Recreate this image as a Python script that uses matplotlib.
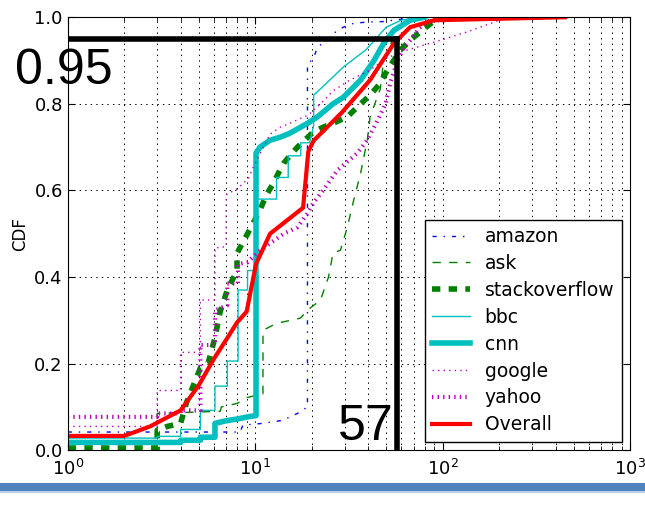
import matplotlib
matplotlib.use('Agg')
import matplotlib.pyplot as plt
from matplotlib.patches import Rectangle
import numpy as np

# old-style (unscaled) dash patterns
plt.rcParams['lines.scale_dashes'] = False
plt.rcParams['lines.dashed_pattern'] = [6, 6]
plt.rcParams['lines.dashdot_pattern'] = [3, 5, 1, 5]
plt.rcParams['lines.dotted_pattern'] = [1, 3]

# CDF curves (x = value, y = cumulative fraction)
amazon_x = [1, 8.3, 8.6, 11, 14, 16.8, 19, 19, 20.4, 21.5, 24.3, 26, 29.5, 33.5, 40, 48, 73]
amazon_y = [0.042, 0.042, 0.058, 0.062, 0.069, 0.085, 0.1, 0.89, 0.905, 0.93, 0.95, 0.962, 0.977, 0.986, 0.989, 0.99, 1.0]

ask_x = [1, 3, 3, 6.5, 6.6, 8, 9.1, 11, 11, 13, 17.4, 19.6, 22.3, 24.6, 26, 28.5, 31, 33.5, 36.5, 39.6, 41, 46.5, 48.4, 52, 57, 70]
ask_y = [0.01, 0.01, 0.085, 0.09, 0.10, 0.108, 0.122, 0.13, 0.277, 0.293, 0.305, 0.328, 0.347, 0.40, 0.455, 0.462, 0.515, 0.577, 0.64, 0.716, 0.77, 0.835, 0.9, 0.93, 0.975, 1.0]

so_x = [1, 3, 3, 3.4, 4, 4.3, 5.1, 5.6, 6.1, 6.5, 7.1, 8, 8, 9.1, 10.4, 11.5, 12.5, 13.3, 14.2, 15.3, 16.8, 20.4, 23, 26, 31, 36.5, 41, 45.5, 51.5, 59.5, 67, 76, 95]
so_y = [0.003, 0.003, 0.046, 0.055, 0.062, 0.11, 0.19, 0.2, 0.26, 0.32, 0.37, 0.415, 0.455, 0.50, 0.547, 0.59, 0.617, 0.64, 0.663, 0.68, 0.70, 0.735, 0.746, 0.755, 0.77, 0.80, 0.82, 0.843, 0.882, 0.924, 0.947, 0.966, 1.0]

bbc_x = [1, 3, 3, 4, 4, 5.1, 5.1, 6.1, 6.1, 7.1, 7.1, 8.1, 8.1, 9.1, 9.1, 10.1, 10.1, 13, 13, 15, 15, 17.5, 17.5, 19.5, 20.5, 20.5, 23, 29.5, 39, 50, 60, 75]
bbc_y = [0.028, 0.028, 0.032, 0.032, 0.048, 0.048, 0.092, 0.092, 0.148, 0.148, 0.206, 0.206, 0.37, 0.37, 0.415, 0.415, 0.58, 0.58, 0.63, 0.63, 0.68, 0.68, 0.71, 0.71, 0.75, 0.82, 0.84, 0.885, 0.925, 0.977, 0.993, 1.0]

cnn_x = [1, 4, 4, 5.1, 5.1, 6.1, 6.1, 7, 8, 9.1, 10.1, 10.1, 10.6, 12, 13.6, 15.3, 19, 21.5, 26, 29.5, 36.5, 43, 48.5, 55, 67, 80]
cnn_y = [0.018, 0.018, 0.023, 0.023, 0.03, 0.03, 0.062, 0.068, 0.072, 0.077, 0.08, 0.686, 0.70, 0.716, 0.723, 0.732, 0.755, 0.77, 0.80, 0.815, 0.855, 0.90, 0.94, 0.97, 0.993, 1.0]

google_x = [1, 3, 3, 4, 4, 5.1, 5.1, 6.1, 6.1, 7, 7, 8.1, 9.2, 9.8, 12, 13.6, 15.3, 17.4, 19.2, 22.3, 26, 32, 40, 50, 60, 89, 135, 200, 230]
google_y = [0.055, 0.055, 0.138, 0.138, 0.226, 0.226, 0.347, 0.347, 0.467, 0.47, 0.59, 0.605, 0.628, 0.655, 0.73, 0.746, 0.755, 0.766, 0.774, 0.80, 0.83, 0.855, 0.875, 0.905, 0.92, 0.942, 0.966, 0.993, 1.0]

yahoo_x = [1, 3, 3, 4, 4, 5.1, 5.1, 6.1, 6.1, 7.1, 7.1, 8.1, 8.1, 9.1, 10.2, 12, 14.2, 16.8, 19, 20.4, 23, 27.5, 35, 39.6, 45, 49.6, 52.5, 57.5, 62, 67, 75, 90]
yahoo_y = [0.077, 0.077, 0.085, 0.085, 0.092, 0.092, 0.243, 0.243, 0.323, 0.335, 0.385, 0.385, 0.43, 0.434, 0.455, 0.478, 0.50, 0.515, 0.547, 0.57, 0.60, 0.647, 0.686, 0.716, 0.762, 0.80, 0.848, 0.90, 0.93, 0.947, 0.975, 1.0]

overall_x = [1, 2, 2.75, 4, 5, 6, 7, 8, 9, 10.1, 12, 18, 19.2, 20.5, 29, 41, 55, 67, 90, 450]
overall_y = [0.033, 0.033, 0.055, 0.092, 0.15, 0.21, 0.255, 0.295, 0.32, 0.43, 0.50, 0.56, 0.69, 0.715, 0.78, 0.855, 0.94, 0.977, 0.993, 1.0]

mark_x = 57
mark_y = 0.95

fig = plt.figure(figsize=(6.45, 5.07), dpi=100)
ax = fig.add_axes([0.105, 0.112, 0.872, 0.854])

ax.plot(amazon_x, amazon_y, color='b', ls='-.', lw=1, label='amazon')
ax.plot(ask_x, ask_y, color='g', ls='--', lw=1, label='ask')
ax.plot(so_x, so_y, color='g', ls='--', lw=4, label='stackoverflow')
ax.plot(bbc_x, bbc_y, color='c', ls='-', lw=1, label='bbc')
ax.plot(cnn_x, cnn_y, color='c', ls='-', lw=4, label='cnn')
ax.plot(google_x, google_y, color='m', ls=':', lw=1, label='google')
ax.plot(yahoo_x, yahoo_y, color='m', ls=':', lw=3, label='yahoo')
ax.plot(overall_x, overall_y, color='r', ls='-', lw=3, label='Overall')

# 95th percentile marker
ax.plot([1, mark_x], [mark_y, mark_y], color='k', lw=4, zorder=5)
ax.plot([mark_x, mark_x], [0, mark_y], color='k', lw=4, zorder=5)
ax.text(mark_x * 0.96, 0.023, str(mark_x), ha='right', va='baseline',
        fontsize=36, family='Liberation Sans')
fig.text(15 / 645, (507 - 84) / 507, '0.95', ha='left', va='baseline',
         fontsize=36, family='Liberation Sans')

ax.set_xscale('log')
ax.set_xlim(1, 1000)
ax.set_ylim(0, 1.0)
ax.set_yticks([0, 0.2, 0.4, 0.6, 0.8, 1.0])
ax.set_yticklabels(['0.0', '0.2', '0.4', '0.6', '0.8', '1.0'])
ax.set_ylabel('CDF', fontsize=12)
ax.tick_params(which='both', direction='in', top=True, right=True, labelsize=13)
ax.tick_params(which='major', length=5)
ax.tick_params(which='minor', length=3)
ax.tick_params(axis='x', pad=6)
ax.grid(True, which='major', ls=':', color='k', lw=0.7)
ax.grid(True, which='minor', axis='x', ls=':', color='k', lw=0.7)

leg = ax.legend(loc='lower right', fontsize=13.5, fancybox=False, framealpha=1,
                labelspacing=0.42, borderaxespad=0.45, handlelength=2.0)
leg.get_frame().set_edgecolor('k')

# blue band below the chart
fig.patches.append(Rectangle((0, (507 - 491) / 507), 1, 8 / 507, transform=fig.transFigure,
                             facecolor='#4F81BD', edgecolor='none'))
fig.patches.append(Rectangle((0, (507 - 493) / 507), 1, 2 / 507, transform=fig.transFigure,
                             facecolor='#B9CDE5', edgecolor='none'))

fig.savefig('out.png', dpi=100)
